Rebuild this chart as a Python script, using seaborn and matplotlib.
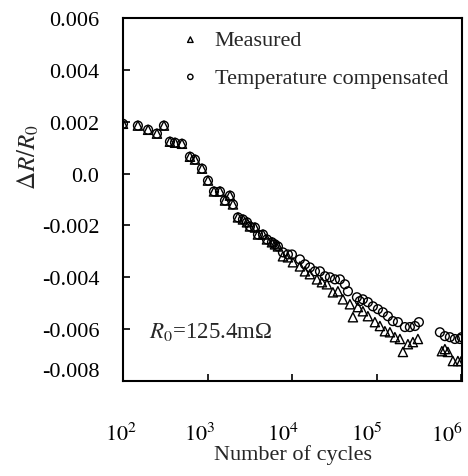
import matplotlib
matplotlib.use("Agg")
import matplotlib.pyplot as plt
import matplotlib.transforms as mtransforms
import seaborn as sns
import pandas as pd

# ---- data ----
cycles_meas = [100, 150, 198, 252, 305, 359, 412, 498, 619, 710, 859, 1011, 1191, 1402,
               1607, 1840, 1996, 2287, 2620, 2923, 3170, 3632, 3943, 4518, 5037, 5771,
               6266, 6793, 7782, 8914, 10215, 12360, 14160, 16220, 19640, 22500, 25780,
               30340, 34760, 39830, 48210, 52330, 59980, 68660, 78660, 95200, 109100,
               125000, 143300, 164100, 188000, 204100, 233900, 267800, 307100, 590000,
               640000, 695000, 796000, 912000, 1000000]
dr_meas = [0.00192, 0.00185, 0.00169, 0.00154, 0.00185, 0.00123, 0.00119, 0.00115,
           0.00065, 0.00054, 0.00019, -0.00027, -0.00069, -0.00069, -0.00104, -0.00085,
           -0.00119, -0.00169, -0.00177, -0.00188, -0.00204, -0.00208, -0.00235, -0.00235,
           -0.00254, -0.00265, -0.00273, -0.00281, -0.00319, -0.00323, -0.00342, -0.00358,
           -0.00377, -0.00388, -0.00408, -0.00419, -0.00427, -0.00458, -0.00454, -0.00485,
           -0.00504, -0.00554, -0.00515, -0.00531, -0.00550, -0.00573, -0.00588, -0.00608,
           -0.00612, -0.00631, -0.00638, -0.00688, -0.00658, -0.00650, -0.00638, -0.00685,
           -0.00677, -0.00688, -0.00723, -0.00723, -0.00723]

cycles_comp = [100, 150, 198, 252, 305, 359, 412, 498, 619, 710, 859, 1011, 1191, 1402,
               1607, 1840, 1996, 2287, 2620, 2923, 3170, 3632, 3943, 4518, 5037, 5771,
               6266, 6793, 7782, 8914, 9951, 12360, 14160, 16220, 18600, 21320, 24430,
               27990, 32060, 36730, 42070, 45700, 58340, 63250, 68660, 78660, 90120,
               103300, 118400, 135600, 155300, 178100, 215400, 246700, 283100, 315500,
               558500, 640000, 733000, 840000, 962000, 1010000]
dr_comp = [0.00192, 0.00185, 0.00169, 0.00154, 0.00185, 0.00123, 0.00119, 0.00115,
           0.00065, 0.00054, 0.00019, -0.00027, -0.00069, -0.00069, -0.00104, -0.00085,
           -0.00119, -0.00169, -0.00177, -0.00188, -0.00204, -0.00208, -0.00235, -0.00235,
           -0.00254, -0.00265, -0.00273, -0.00281, -0.00304, -0.00312, -0.00312, -0.00331,
           -0.00350, -0.00362, -0.00377, -0.00377, -0.00396, -0.00400, -0.00408, -0.00408,
           -0.00427, -0.00454, -0.00477, -0.00492, -0.00485, -0.00496, -0.00512, -0.00523,
           -0.00535, -0.00550, -0.00569, -0.00573, -0.00592, -0.00592, -0.00588, -0.00573,
           -0.00612, -0.00627, -0.00631, -0.00638, -0.00638, -0.00631]

series_names = ["Measured", "Temperature compensated"]
y_ticks = [0.006, 0.004, 0.002, 0.0, -0.002, -0.004, -0.006, -0.008]
y_tick_labels = ["0.006", "0.004", "0.002", "0.0", "-0.002", "-0.004", "-0.006", "-0.008"]
x_ticks = [1e2, 1e3, 1e4, 1e5, 1e6]
x_tick_labels = [r"$10^{2}$", r"$10^{3}$", r"$10^{4}$", r"$10^{5}$", r"$10^{6}$"]

df_meas = pd.DataFrame({"N": cycles_meas, "dR": dr_meas})
df_comp = pd.DataFrame({"N": cycles_comp, "dR": dr_comp})

# ---- style ----
sns.set_style("white")
plt.rcParams["font.family"] = ["Liberation Serif", "DejaVu Serif"]
plt.rcParams["mathtext.fontset"] = "stix"
plt.rcParams["axes.unicode_minus"] = False

fig = plt.figure(figsize=(4.68, 4.77), dpi=100)
ax = fig.add_axes([123 / 468, 1 - 382 / 477, (462 - 123) / 468, (382 - 19) / 477])

sns.scatterplot(data=df_comp, x="N", y="dR", marker="o", s=40, facecolors="none",
                edgecolors="black", linewidths=1.0, ax=ax, label=series_names[1], zorder=3)
sns.scatterplot(data=df_meas, x="N", y="dR", marker="^", s=44, facecolors="none",
                edgecolors="black", linewidths=1.0, ax=ax, label=series_names[0], zorder=4)

ax.set_xscale("log")
ax.set_xlim(1e2, 1.02e6)
ax.set_ylim(-0.008, 0.006)
ax.set_xticks(x_ticks)
ax.set_xticklabels(x_tick_labels)
ax.set_yticks(y_ticks)
ax.set_yticklabels(y_tick_labels)
ax.minorticks_off()
ax.tick_params(axis="both", direction="in", length=5, width=1.2, labelsize=16,
               colors="black", left=True, bottom=True, top=False, right=False)
ax.tick_params(axis="x", pad=30)
ax.tick_params(axis="y", pad=17)
# the reference shifts the x tick labels slightly left of their ticks
x_label_shift_px = [-2, -8, -9, -10, -14]
for lab, dx in zip(ax.get_xticklabels(), x_label_shift_px):
    lab.set_transform(lab.get_transform() +
                      mtransforms.ScaledTranslation(dx / 100, 0, fig.dpi_scale_trans))
# the lowest y tick label sits a little above its tick in the reference
y_label_shift_px = [0, 0, 0, 0, 0, 0, 0, 12]
for lab, dy in zip(ax.get_yticklabels(), y_label_shift_px):
    lab.set_transform(lab.get_transform() +
                      mtransforms.ScaledTranslation(0, dy / 100, fig.dpi_scale_trans))
for sp in ax.spines.values():
    sp.set_visible(True)
    sp.set_color("black")
    sp.set_linewidth(1.5)

ax.set_xlabel("")
ax.set_ylabel("")
fig.text(28 / 468, 1 - 157 / 477, r"$\mathit{\Delta R}/R_0$", rotation=90,
         ha="center", va="center", fontsize=18)
fig.text((123 + 339 / 2) / 468, 1 - 455 / 477, "Number of cycles", ha="center",
         va="center", fontsize=16)
ax.text(0.077, 0.138, "$R_0$=125.4m\u03a9",
        transform=ax.transAxes, fontsize=16.5, va="center", ha="left")

handles, labels = ax.get_legend_handles_labels()
order = [labels.index(series_names[0]), labels.index(series_names[1])]
ax.legend([handles[i] for i in order], [labels[i] for i in order],
          loc="upper left", bbox_to_anchor=(0.12, 1.01), frameon=False,
          fontsize=16, markerscale=0.6, handletextpad=0.6, labelspacing=0.75,
          handlelength=1.0, borderpad=0.2)

fig.savefig("out.png", dpi=100)
